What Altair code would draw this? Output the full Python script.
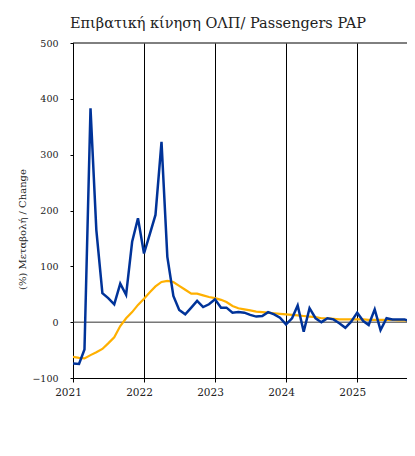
import altair as alt
import pandas as pd

months = pd.date_range("2021-01-01", periods=59, freq="MS").strftime("%Y-%m-%d").tolist()

passengers_yoy = [
    -74, -75, -49, 383, 165, 52, 43, 32, 69, 49, 144, 186,
    123, 159, 192, 323, 117, 47, 22, 14, 26, 38, 27, 32,
    41, 26, 26, 17, 18, 17, 13, 10, 11, 18, 14, 8,
    -4, 7, 30, -17, 25, 7, 0, 7, 5, -2, -10, 1,
    17, 2, -5, 23, -14, 7, 5, 5, 5, 1, 13,
]
moving_avg = [
    -62, -64, -65, -59, -54, -48, -38, -27, -7, 7, 18, 31,
    42, 54, 64, 72, 74, 72, 65, 58, 51, 51, 48, 45,
    43, 40, 36, 29, 25, 23, 21, 19, 18, 17, 16, 15,
    14, 13, 12, 11, 10, 9, 7, 7, 6, 5, 5, 5,
    5, 5, 4, 4, 4, 4, 4, 3, 3, 2, 2,
]

df = pd.DataFrame({"date": months, "yoy": passengers_yoy, "ma": moving_avg})

x_dom = ["2021-01-01", "2025-09-14"]
xs = alt.Scale(domain=x_dom)
ys = alt.Scale(domain=[-100, 500])
FONT = "DejaVu Serif"

base = alt.Chart(df)

xaxis = alt.Axis(
    format="%Y", tickCount={"interval": "year", "step": 1}, grid=True,
    gridColor="#000000", gridWidth=1, gridOpacity=1,
    domainColor="#000000", tickColor="#000000", tickSize=4,
    labelFont=FONT, labelFontSize=10.5, labelColor="#222222",
    labelOffset=-5, labelPadding=5, labelFlush=False, title=None,
)
yaxis = alt.Axis(
    values=[-100, 0, 100, 200, 300, 400, 500], grid=False,
    domainColor="#000000", tickColor="#000000", tickSize=3,
    labelFont=FONT, labelFontSize=9.5, labelColor="#222222", labelPadding=12,
    title="(%) Μεταβολή / Change", titleFont=FONT, titleFontSize=10,
    titleFontWeight="normal", titleColor="#222222",
    titleX=-51, titleY=186, titleAngle=270, titleAlign="center", titleBaseline="middle",
)

axes = base.mark_line(opacity=0).encode(
    x=alt.X("date:T", scale=xs, axis=xaxis),
    y=alt.Y("yoy:Q", scale=ys, axis=yaxis),
)

zero = alt.Chart(pd.DataFrame({"v": [0]})).mark_rule(color="#333333", strokeWidth=1).encode(
    y=alt.Y("v:Q", scale=ys)
)
top = alt.Chart(pd.DataFrame({"v": [500]})).mark_rule(color="#000000", strokeWidth=1).encode(
    y=alt.Y("v:Q", scale=ys)
)

ma_line = base.mark_line(color="#FFB000", strokeWidth=2.2, clip=True).encode(
    x=alt.X("date:T", scale=xs), y=alt.Y("ma:Q", scale=ys)
)
yoy_line = base.mark_line(color="#003399", strokeWidth=2.5, clip=True).encode(
    x=alt.X("date:T", scale=xs), y=alt.Y("yoy:Q", scale=ys)
)

chart = alt.layer(axes, zero, top, ma_line, yoy_line).properties(
    width=334, height=335,
    autosize=alt.AutoSizeParams(type="none"),
    padding={"left": 65, "top": 35, "right": 0, "bottom": 50},
    title=alt.Title(
        "Επιβατική κίνηση ΟΛΠ/ Passengers PAP", anchor="start", frame="group", dx=-3,
        font=FONT, fontSize=14.5, fontWeight="normal", color="#222222", offset=7,
    ),
).configure_view(stroke=None)

chart.save("out.html", embed_options={"renderer": "svg", "actions": False})
